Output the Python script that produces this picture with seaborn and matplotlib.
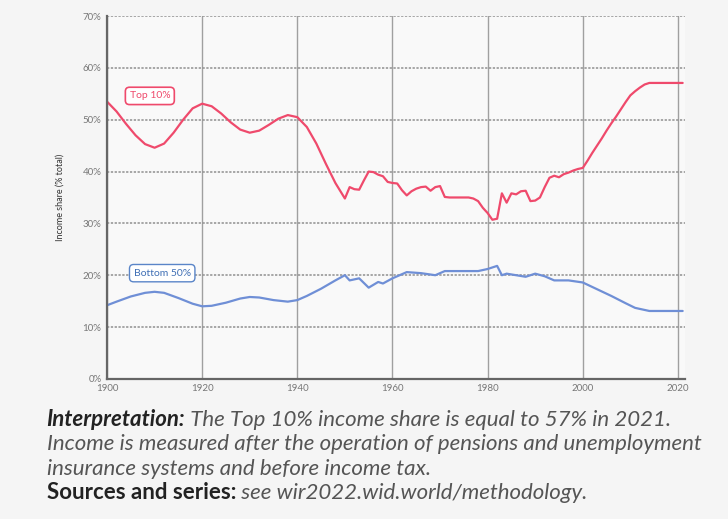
import matplotlib
matplotlib.use('Agg')
import matplotlib.pyplot as plt
import seaborn as sns
import pandas as pd

# values (% of total income)
top10_years = [1900, 1902, 1904, 1906, 1908, 1910, 1912, 1914, 1916, 1918,
               1920, 1922, 1924, 1926, 1928, 1930, 1932, 1934, 1936, 1938,
               1940, 1942, 1944, 1946, 1948, 1950, 1951, 1952, 1953, 1954,
               1955, 1956, 1957, 1958, 1959, 1960, 1961, 1962, 1963, 1964,
               1965, 1966, 1967, 1968, 1969, 1970, 1971, 1972, 1973, 1974,
               1975, 1976, 1977, 1978, 1979, 1980, 1981, 1982, 1983, 1984,
               1985, 1986, 1987, 1988, 1989, 1990, 1991, 1992, 1993, 1994,
               1995, 1996, 1997, 1998, 1999, 2000, 2001, 2002, 2003, 2004,
               2005, 2006, 2007, 2008, 2009, 2010, 2011, 2012, 2013, 2014,
               2015, 2017, 2019, 2021]
top10_share = [53.5, 51.6, 49.2, 47.0, 45.3, 44.6, 45.4, 47.5, 50.0, 52.2,
               53.1, 52.6, 51.2, 49.5, 48.1, 47.5, 47.9, 49.0, 50.2, 50.9,
               50.5, 48.6, 45.4, 41.5, 37.8, 34.8, 37.0, 36.6, 36.5, 38.3,
               40.0, 39.9, 39.4, 39.1, 38.0, 37.8, 37.7, 36.4, 35.4, 36.2,
               36.7, 37.0, 37.1, 36.3, 37.0, 37.2, 35.1, 35.0, 35.0, 35.0,
               35.0, 35.0, 34.8, 34.3, 33.0, 32.0, 30.7, 30.9, 35.8, 34.0,
               35.8, 35.6, 36.2, 36.3, 34.3, 34.4, 35.0, 37.0, 38.8, 39.2,
               38.9, 39.5, 39.8, 40.2, 40.5, 40.7, 42.1, 43.6, 45.0, 46.4,
               47.9, 49.3, 50.6, 52.0, 53.4, 54.7, 55.5, 56.2, 56.8, 57.1,
               57.1, 57.1, 57.1, 57.1]

bottom50_years = [1900, 1902, 1905, 1908, 1910, 1912, 1915, 1918, 1920, 1922,
                  1925, 1928, 1930, 1932, 1935, 1938, 1940, 1942, 1945, 1948,
                  1950, 1951, 1953, 1955, 1957, 1958, 1960, 1963, 1966, 1969,
                  1971, 1974, 1978, 1980, 1982, 1983, 1984, 1986, 1988, 1990,
                  1992, 1994, 1997, 2000, 2003, 2006, 2009, 2011, 2014, 2017,
                  2021]
bottom50_share = [14.2, 14.9, 15.9, 16.6, 16.8, 16.6, 15.6, 14.5, 14.0, 14.1,
                  14.7, 15.5, 15.8, 15.7, 15.2, 14.9, 15.2, 16.0, 17.4, 19.0,
                  20.0, 19.0, 19.4, 17.6, 18.7, 18.4, 19.4, 20.6, 20.4, 20.0,
                  20.8, 20.8, 20.8, 21.2, 21.8, 20.0, 20.3, 20.0, 19.7, 20.3,
                  19.8, 19.0, 19.0, 18.6, 17.3, 16.0, 14.6, 13.7, 13.1, 13.1,
                  13.1]

series_names = ['Top 10%', 'Bottom 50%']
y_ticks = [0, 10, 20, 30, 40, 50, 60, 70]
x_ticks = [1900, 1920, 1940, 1960, 1980, 2000, 2020]

RED = '#ef4a6c'
BLUE = '#6f8fd6'

df = pd.concat([
    pd.DataFrame({'year': top10_years, 'share': top10_share, 'group': series_names[0]}),
    pd.DataFrame({'year': bottom50_years, 'share': bottom50_share, 'group': series_names[1]}),
])

sns.set_theme(style='white')
plt.rcParams['font.family'] = ['Lato', 'DejaVu Sans']

fig = plt.figure(figsize=(7.28, 5.19), dpi=100, facecolor='#f5f5f5')
ax = fig.add_axes([0.147, 0.270, 0.794, 0.699])
ax.set_facecolor('#f9f9f9')

sns.lineplot(data=df, x='year', y='share', hue='group',
             palette={series_names[0]: RED, series_names[1]: BLUE},
             linewidth=1.6, legend=False, ax=ax)

ax.set_xlim(1900, 2021.5)
ax.set_ylim(0, 70)
ax.set_xticks(x_ticks)
ax.set_yticks(y_ticks)
ax.set_yticklabels(['{}%'.format(v) for v in y_ticks])
ax.tick_params(axis='both', labelsize=7, colors='#777777', length=0, pad=4)
ax.set_xlabel('')
ax.set_ylabel('Income share (% total)', fontsize=6.5, color='#333333', labelpad=13)

ax.xaxis.grid(True, color='#a0a0a0', linewidth=1.0, linestyle='-')
ax.yaxis.grid(True, color='#909090', linewidth=1.1, linestyle=(0, (1.5, 1)))
ax.set_axisbelow(True)
for side in ['top', 'right']:
    ax.spines[side].set_visible(False)
for side in ['left', 'bottom']:
    ax.spines[side].set_color('#666666')
    ax.spines[side].set_linewidth(1.6)

ax.text(1909, 54.6, series_names[0], color=RED, fontsize=7.5, ha='center', va='center',
        bbox=dict(boxstyle='round,pad=0.4', fc='white', ec=RED, lw=1.2))
ax.text(1911.6, 20.4, series_names[1], color='#3f6fb5', fontsize=7.5, ha='center', va='center',
        bbox=dict(boxstyle='round,pad=0.4', fc='white', ec='#5a85c8', lw=1.0))

# caption below the chart: mixed styles on one line, chained via annotate
CAP = 16
def caption_line(y, parts):
    prev = None
    for txt, weight, style, color in parts:
        if prev is None:
            prev = fig.text(0.064, y, txt, fontsize=CAP, fontweight=weight,
                            style=style, color=color, ha='left', va='bottom')
        else:
            prev = ax.annotate(txt, xy=(1, 0), xycoords=prev, fontsize=CAP,
                               fontweight=weight, style=style, color=color,
                               ha='left', va='bottom', annotation_clip=False)

caption_line(0.172, [('Interpretation:', 'bold', 'italic', '#222222'),
                     (' The Top 10% income share is equal to 57% in 2021.', 'normal', 'italic', '#555555')])
caption_line(0.125, [('Income is measured after the operation of pensions and unemployment', 'normal', 'italic', '#555555')])
caption_line(0.078, [('insurance systems and before income tax.', 'normal', 'italic', '#555555')])
caption_line(0.030, [('Sources and series:', 'bold', 'normal', '#222222'),
                     (' see wir2022.wid.world/methodology.', 'normal', 'italic', '#555555')])

fig.savefig('out.png', dpi=100, facecolor=fig.get_facecolor())
